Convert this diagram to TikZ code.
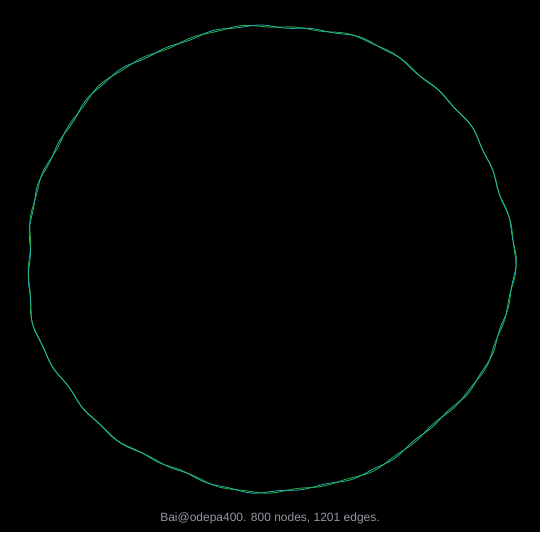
\documentclass[tikz,border=0pt]{standalone}
\usepackage{fontspec}
\setmainfont{Liberation Sans}
\usepackage{xcolor}
\usepackage{tikz}
\definecolor{ringgreen}{RGB}{40,160,60}
\definecolor{ringteal}{RGB}{30,180,170}
\definecolor{captiongray}{RGB}{150,150,165}
\tikzset{
    greenline/.style={draw=ringgreen, line width=0.9pt},
    tealline/.style={draw=ringteal, line width=0.8pt},
    caption/.style={text=captiongray, font=\fontsize{12}{14}\selectfont, inner sep=0pt}
}

\begin{document}
\begin{tikzpicture}[x=1pt, y=-1pt]
    \fill[black] (0,0) rectangle (540,532);
    \useasboundingbox (0,0) rectangle (540,532);
    % wobbly ring, centre (269.5,257.5)
    \draw[greenline] plot[domain=0:358, samples=180, smooth cycle]
        ({269.5+243*cos(\x)*(1+0.008*sin(5*\x+40)+0.007*sin(11*\x+100)+0.004*sin(29*\x))},
         {257.5+233*sin(\x)*(1+0.008*sin(5*\x+40)+0.007*sin(11*\x+100)+0.004*sin(29*\x))});
    \draw[tealline] plot[domain=0:358, samples=180, smooth cycle]
        ({269.5+243*cos(\x)*(1+0.008*sin(5*\x+40)+0.007*sin(11*\x+100)+0.004*sin(31*\x+60))},
         {257.5+233*sin(\x)*(1+0.008*sin(5*\x+40)+0.007*sin(11*\x+100)+0.004*sin(31*\x+60))});
    \node (cap) [caption] at (270,518) {Bai@odepa400. 800 nodes, 1201 edges.};
\end{tikzpicture}
\end{document}
